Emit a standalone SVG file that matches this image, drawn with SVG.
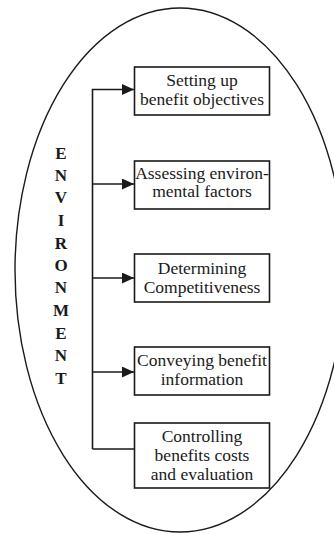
<svg xmlns="http://www.w3.org/2000/svg" width="334" height="534" viewBox="0 0 334 534">
<style>
.box{fill:#fff;stroke:#1a1a1a;stroke-width:1.6}
.t{font-family:"Liberation Serif","Times New Roman",serif;font-size:17.5px;fill:#1a1a1a;text-anchor:middle}
.env{font-family:"Liberation Serif","Times New Roman",serif;font-size:17px;font-weight:bold;fill:#1a1a1a;text-anchor:middle}
.ln{fill:none;stroke:#1a1a1a;stroke-width:1.6}
</style>
<defs>
<marker id="arr" markerWidth="12" markerHeight="11" refX="12" refY="5.5" orient="auto" markerUnits="userSpaceOnUse">
<path d="M0,0 L12,5.5 L0,11 Z" fill="#1a1a1a"/>
</marker>
</defs>
<rect width="334" height="534" fill="#fff"/>
<ellipse id="environment-boundary" cx="180" cy="270" rx="165" ry="262" fill="none" stroke="#1a1a1a" stroke-width="1.4"/>
<g id="environment-label">
<text class="env" x="61" y="159">E</text>
<text class="env" x="61" y="181">N</text>
<text class="env" x="61" y="203">V</text>
<text class="env" x="61" y="226">I</text>
<text class="env" x="61" y="249">R</text>
<text class="env" x="61" y="271">O</text>
<text class="env" x="61" y="293">N</text>
<text class="env" x="61" y="316">M</text>
<text class="env" x="61" y="339">E</text>
<text class="env" x="61" y="361">N</text>
<text class="env" x="61" y="384">T</text>
</g>
<g id="connectors">
<path class="ln" d="M92.5,449 V89.5 H134" marker-end="url(#arr)"/>
<path class="ln" d="M92.5,184 H134" marker-end="url(#arr)"/>
<path class="ln" d="M92.5,278 H134" marker-end="url(#arr)"/>
<path class="ln" d="M92.5,372 H134" marker-end="url(#arr)"/>
<path class="ln" d="M92.5,449 H134"/>
</g>
<g id="node1">
<rect class="box" x="134.5" y="67" width="135" height="48"/>
<text class="t" x="202" y="86">Setting up</text>
<text class="t" x="202" y="104.5">benefit objectives</text>
</g>
<g id="node2">
<rect class="box" x="134.5" y="161" width="135" height="48"/>
<text class="t" x="202" y="178.5">Assessing environ-</text>
<text class="t" x="202" y="197">mental factors</text>
</g>
<g id="node3">
<rect class="box" x="134.5" y="254" width="135" height="48"/>
<text class="t" x="202" y="274">Determining</text>
<text class="t" x="202" y="293">Competitiveness</text>
</g>
<g id="node4">
<rect class="box" x="134.5" y="347" width="135" height="48"/>
<text class="t" x="202" y="366">Conveying benefit</text>
<text class="t" x="202" y="385">information</text>
</g>
<g id="node5">
<rect class="box" x="134.5" y="423" width="135" height="65"/>
<text class="t" x="202" y="442">Controlling</text>
<text class="t" x="202" y="461">benefits costs</text>
<text class="t" x="202" y="480">and evaluation</text>
</g>
</svg>
